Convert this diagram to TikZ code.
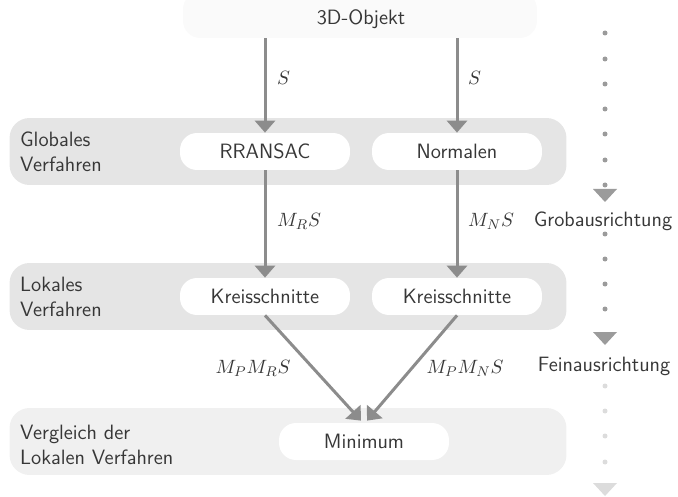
\documentclass[tikz,border=0pt]{standalone}
\usepackage{amsmath}
\usetikzlibrary{arrows.meta,positioning}
\definecolor{pfeilgrau}{RGB}{140,140,140}
\definecolor{textgrau}{RGB}{55,55,55}
\definecolor{ebene1}{RGB}{229,229,229}
\definecolor{ebene2}{RGB}{240,240,240}
\definecolor{objektgrau}{RGB}{250,250,250}
\definecolor{punkt1}{RGB}{155,155,155}
\definecolor{punkt2}{RGB}{220,220,220}

\begin{document}
\begin{tikzpicture}
		[x=0.02cm,y=-0.02cm,
		font=\sffamily\fontsize{11.8}{14}\selectfont,text=textgrau,
		ebene/.style={rectangle,rounded corners=0.4cm,fill=ebene1,
			inner sep=0pt,minimum width=11.14cm,minimum height=1.34cm},
		verfahren/.style={rectangle,rounded corners=0.34cm,fill=white,
			inner sep=0pt,minimum width=3.4cm,minimum height=0.74cm},
		titel/.style={align=left,anchor=west},
		pfeil/.style={draw=pfeilgrau,line width=0.06cm,
			-{Triangle[width=0.4cm,length=0.24cm]}},
		marke/.style={font=\fontsize{11.2}{13}\selectfont},
		punkt/.style={circle,fill=punkt1,inner sep=0pt,minimum size=0.1cm},
		spitze/.style={fill=punkt1}]
		\useasboundingbox (0,0) rectangle (678,496);
		%---------------------Objekt oben------------
		\node[verfahren,fill=objektgrau,minimum width=7.08cm,minimum height=0.92cm] (objekt) at (360,15) {};
		\node at (361,19) {3D-Objekt};
		%---------------------Ebenen---------
		\node[ebene] (global) at (288,151.5) {};
		\node[ebene] (lokal) at (288,296.5) {};
		\node[ebene,fill=ebene2] (vergleich) at (288,441.5) {};
		\node[titel] (tglobal) at (14,152) {Globales\\Verfahren};
		\node[titel] (tlokal) at (14,297) {Lokales\\Verfahren};
		\node[titel] (tvergleich) at (14,445) {Vergleich der\\Lokalen Verfahren};
		%---------------------Verfahren---------
		\node[verfahren] (rransac) at (265,151.5) {RRANSAC};
		\node[verfahren] (normalen) at (457,151.5) {Normalen};
		\node[verfahren] (kreis1) at (265,296.5) {Kreisschnitte};
		\node[verfahren] (kreis2) at (457,296.5) {Kreisschnitte};
		\node[verfahren] (minimum) at (364,441.5) {Minimum};
		%---------------------Pfeile---------
		\draw[pfeil] (objekt.south -| rransac) -- (rransac.north);
		\draw[pfeil] (objekt.south -| normalen) -- (normalen.north);
		\draw[pfeil] (rransac) -- (kreis1);
		\draw[pfeil] (normalen) -- (kreis2);
		\draw[pfeil] (kreis1.south) -- ([xshift=-0.06cm,yshift=0.04cm]minimum.north);
		\draw[pfeil] (kreis2.south) -- ([xshift=0.06cm,yshift=0.04cm]minimum.north);
		%----Beschriftungen------
		\node[marke,anchor=west] (s1) at (271,78) {$S$};
		\node[marke,anchor=west] (s2) at (462,78) {$S$};
		\node[marke,anchor=west] (mr) at (271,221) {$M_RS$};
		\node[marke,anchor=west] (mn) at (462,221) {$M_NS$};
		\node[marke] (mpr) at (253,368) {$M_PM_RS$};
		\node[marke] (mpn) at (465,368) {$M_PM_NS$};
		%---------------------Ausrichtung rechts---------
		\foreach \y in {33,59,84,109,134,160,185}
			\node[punkt] at (605,\y) {};
		\fill[spitze] (593,189) -- (617,189) -- (605,202) -- cycle;
		\node (grob) at (603,221) {Grobausrichtung};
		\foreach \y in {234,259,284,309}
			\node[punkt] at (605,\y) {};
		\fill[spitze] (593,332) -- (617,332) -- (605,345) -- cycle;
		\node (fein) at (604,366) {Feinausrichtung};
		\foreach \y in {386,411,436,462}
			\node[punkt,fill=punkt2] at (605,\y) {};
		\fill[spitze,fill=punkt2] (593,483) -- (617,483) -- (605,496) -- cycle;
		\end{tikzpicture}
\end{document}
